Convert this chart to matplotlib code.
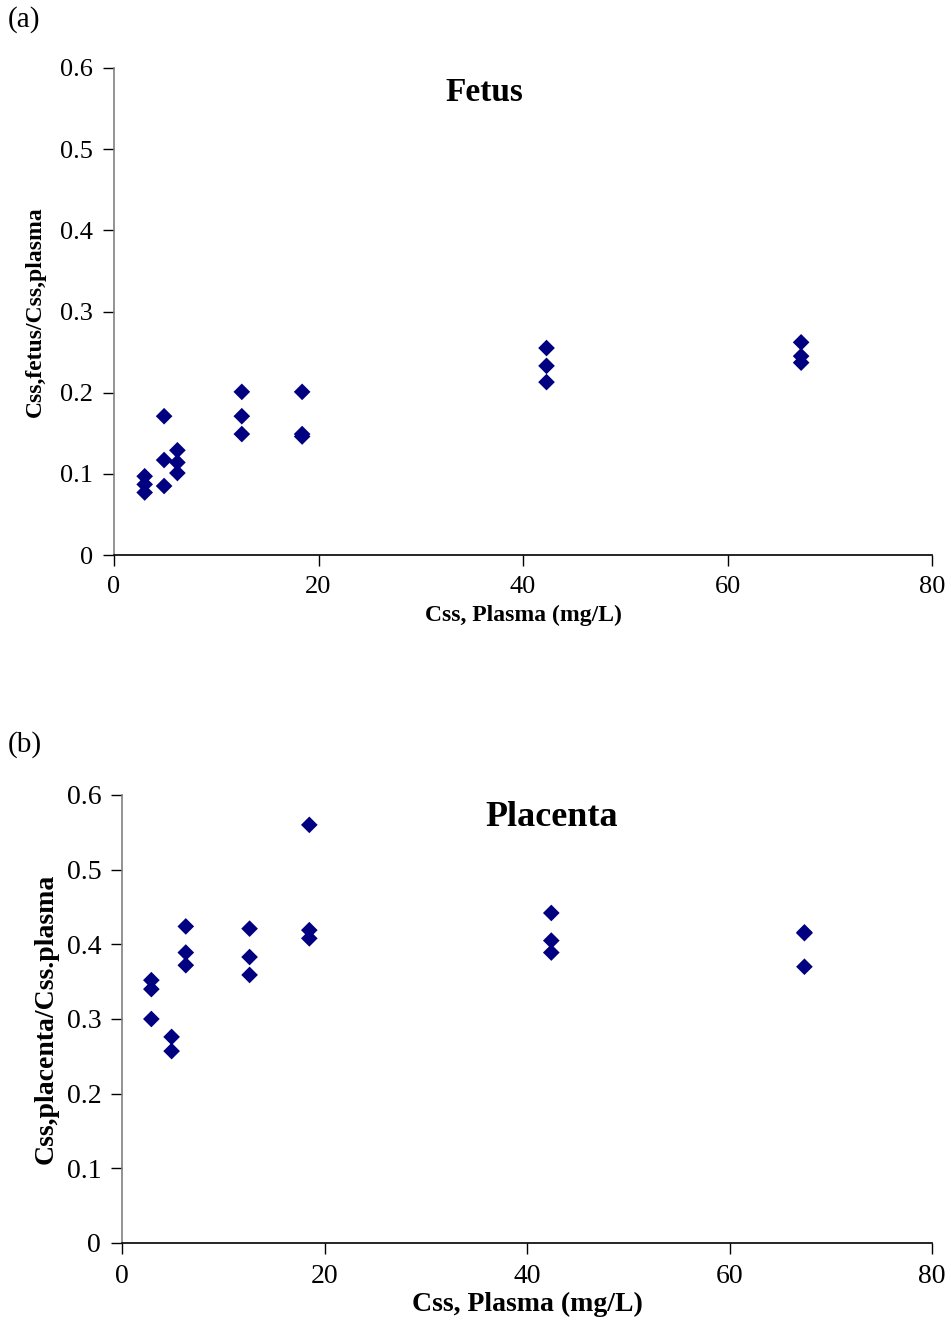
import matplotlib
matplotlib.use("Agg")
import matplotlib.pyplot as plt

# Fetus panel data
fetus_x = [3.0, 3.0, 3.0, 4.9, 4.9, 4.9, 6.2, 6.2, 6.2,
           12.5, 12.5, 12.5, 18.4, 18.4, 18.4, 42.3, 42.3, 42.3,
           67.2, 67.2, 67.2]
fetus_y = [0.097, 0.087, 0.077, 0.171, 0.117, 0.085, 0.129, 0.114, 0.101,
           0.201, 0.171, 0.149, 0.201, 0.149, 0.146, 0.255, 0.233, 0.213,
           0.262, 0.245, 0.237]

# Placenta panel data
plac_x = [2.9, 2.9, 2.9, 4.9, 4.9, 6.3, 6.3, 6.3,
          12.6, 12.6, 12.6, 18.5, 18.5, 18.5, 42.4, 42.4, 42.4,
          67.4, 67.4, 67.4]
plac_y = [0.352, 0.340, 0.300, 0.276, 0.257, 0.424, 0.389, 0.372,
          0.421, 0.383, 0.359, 0.560, 0.419, 0.408, 0.442, 0.405, 0.389,
          0.416, 0.415, 0.370]

x_ticks = [0, 20, 40, 60, 80]
y_ticks = [0, 0.1, 0.2, 0.3, 0.4, 0.5, 0.6]
y_ticklabels = ["0", "0.1", "0.2", "0.3", "0.4", "0.5", "0.6"]

plt.rcParams['font.family'] = ['Liberation Serif', 'DejaVu Serif']

W, H = 951, 1326
fig = plt.figure(figsize=(W / 100, H / 100), dpi=100)

def make_ax(left_px, right_px, top_px, bottom_px):
    return fig.add_axes([left_px / W, 1 - bottom_px / H,
                         (right_px - left_px) / W, (bottom_px - top_px) / H])

def style(ax, xs, ys, tick_fs):
    ax.scatter(xs, ys, marker='D', s=72, color='#000080', edgecolors='none',
               zorder=3, clip_on=False)
    ax.set_xlim(0, 80)
    ax.set_ylim(0, 0.6)
    ax.set_xticks(x_ticks)
    ax.set_xticklabels([str(t) for t in x_ticks])
    ax.set_yticks(y_ticks)
    ax.set_yticklabels(y_ticklabels)
    for s in ['top', 'right']:
        ax.spines[s].set_visible(False)
    ax.spines['left'].set_color('#808080')
    ax.spines['bottom'].set_color('#000000')
    ax.spines['left'].set_linewidth(1.2)
    ax.spines['bottom'].set_linewidth(1.2)
    ax.tick_params(direction='out', length=8, width=1, labelsize=tick_fs,
                   color='#000000', pad=7)

ax1 = make_ax(114, 932, 68, 555)
style(ax1, fetus_x, fetus_y, 19)
ax1.set_xlabel("Css, Plasma (mg/L)", fontsize=17, fontweight='bold', labelpad=5)
ax1.set_ylabel("Css,fetus/Css,plasma", fontsize=17, fontweight='bold', labelpad=10)
ax1.text(0.453, 0.95, "Fetus", transform=ax1.transAxes, ha='center', va='center',
         fontsize=24, fontweight='bold')

ax2 = make_ax(122, 932, 795, 1243)
style(ax2, plac_x, plac_y, 20)
ax2.set_xlabel("Css, Plasma (mg/L)", fontsize=20, fontweight='bold', labelpad=2)
ax2.set_ylabel("Css,placenta/Css.plasma", fontsize=20, fontweight='bold', labelpad=6)
ax2.text(0.531, 0.95, "Placenta", transform=ax2.transAxes, ha='center', va='center',
         fontsize=26, fontweight='bold')

fig.text(8 / W, 1 - 20 / H, "(a)", fontsize=21, ha='left', va='center')
fig.text(8 / W, 1 - 745 / H, "(b)", fontsize=21, ha='left', va='center')

fig.savefig("out.png", dpi=100)
